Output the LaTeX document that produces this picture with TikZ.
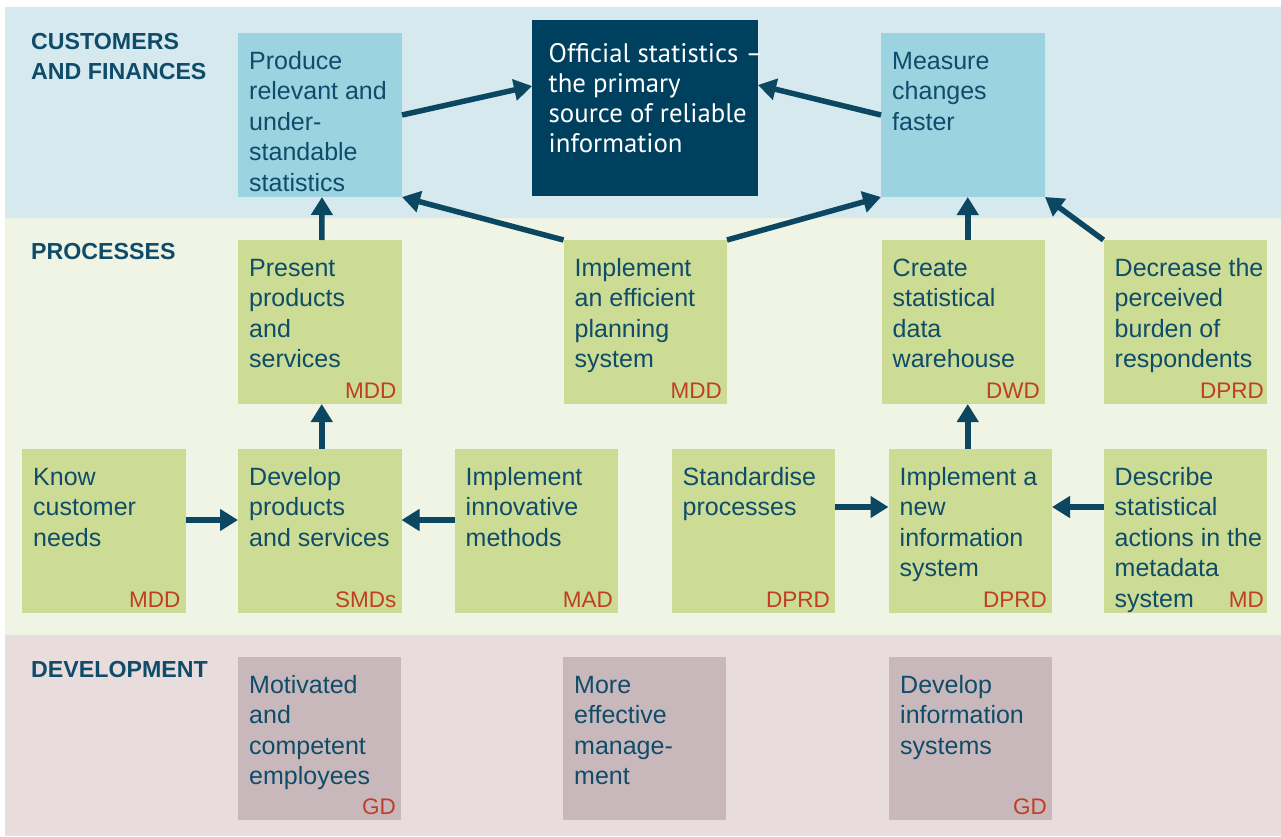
\documentclass[tikz,border=0pt]{standalone}
\usepackage{fontspec}
\setmainfont{Liberation Sans}
\newfontfamily\offfont{PT Sans}
\usetikzlibrary{arrows.meta}
\definecolor{bandblue}{HTML}{D5E9EF}
\definecolor{bandgreen}{HTML}{F0F4E4}
\definecolor{bandpink}{HTML}{E8DCDD}
\definecolor{boxblue}{HTML}{9BD3E0}
\definecolor{boxgreen}{HTML}{CCDC94}
\definecolor{boxpink}{HTML}{C9B8BB}
\definecolor{darkbox}{HTML}{00405F}
\definecolor{txtc}{HTML}{0F4C6A}
\definecolor{codec}{HTML}{BF3E24}
\definecolor{arrc}{HTML}{0B4761}
\tikzset{
  boxbase/.style={inner sep=0pt, outer sep=0pt, anchor=north west, minimum height=164pt},
  bluebox/.style={boxbase, fill=boxblue, minimum width=164pt},
  greenbox/.style={boxbase, fill=boxgreen, minimum width=163.5pt},
  pinkbox/.style={boxbase, fill=boxpink, minimum width=163pt, minimum height=163pt},
  btext/.style={inner sep=0pt, anchor=base west, align=left, text=txtc, font=\fontsize{25}{30.5}\selectfont},
  lines2/.style={yshift=-30.5pt},
  lines3/.style={yshift=-61pt},
  lines4/.style={yshift=-91.5pt},
  lines5/.style={yshift=-122pt},
  otext/.style={inner sep=0pt, anchor=base west, align=left, text=white, font=\offfont\fontsize{26.8}{30.3}\selectfont, yshift=-90.9pt},
  codetext/.style={inner sep=0pt, anchor=base east, text=codec, font=\fontsize{22.5}{27}\selectfont},
  bandlabel/.style={inner sep=0pt, anchor=base west, align=left, text=txtc, font=\bfseries\fontsize{23.2}{30}\selectfont},
  arr/.style={draw=arrc, line width=5.5pt, -{Triangle[length=18pt,width=21pt]}}
}
\begin{document}
\begin{tikzpicture}[x=1pt,y=-1pt]
\useasboundingbox (0,0) rectangle (1281,836);
\fill[white] (0,0) rectangle (1281,836);
% bands
\fill[bandblue] (5,7) rectangle (1281,218);
\fill[bandgreen] (5,218) rectangle (1281,635);
\fill[bandpink] (5,635) rectangle (1281,836);
% band labels
\node[bandlabel, yshift=-30pt] (lcust) at (31,49) {CUSTOMERS\\AND FINANCES};
\node[bandlabel] (lproc) at (31,259) {PROCESSES};
\node[bandlabel] (ldev) at (31,677) {DEVELOPMENT};
% top row
\node[bluebox] (prod) at (238,33) {};
\node[boxbase, fill=darkbox, minimum width=226pt, minimum height=176pt] (off) at (532,20) {};
\node[bluebox] (meas) at (881,33) {};
% processes row 1
\node[greenbox] (pres) at (238,240) {};
\node[greenbox] (impl) at (563.5,240) {};
\node[greenbox] (crea) at (881.5,240) {};
\node[greenbox] (decr) at (1103.5,240) {};
% processes row 2
\node[greenbox] (know) at (22,449) {};
\node[greenbox] (devp) at (238,449) {};
\node[greenbox] (innov) at (454.5,449) {};
\node[greenbox] (stand) at (671.5,449) {};
\node[greenbox] (newis) at (888.5,449) {};
\node[greenbox] (descr) at (1103.5,449) {};
% development
\node[pinkbox] (motiv) at (238,657) {};
\node[pinkbox] (more) at (563,657) {};
\node[pinkbox] (devis) at (889,657) {};
% texts
\node[btext, lines5] (prodT) at ([xshift=11pt,yshift=-36pt]prod.north west) {Produce\\relevant and\\under-\\standable\\statistics};
\node[otext] (offT) at ([xshift=16.5pt,yshift=-42pt]off.north west) {Official statistics –\\the primary\\source of reliable\\information};
\node[btext, lines3] (measT) at ([xshift=11pt,yshift=-36pt]meas.north west) {Measure\\changes\\faster};
\node[btext, lines4] (presT) at ([xshift=11pt,yshift=-36pt]pres.north west) {Present\\products\\and\\services};
\node[btext, lines4] (implT) at ([xshift=11pt,yshift=-36pt]impl.north west) {Implement\\an efficient\\planning\\system};
\node[btext, lines4] (creaT) at ([xshift=11pt,yshift=-36pt]crea.north west) {Create\\statistical\\data\\warehouse};
\node[btext, lines4] (decrT) at ([xshift=11pt,yshift=-36pt]decr.north west) {Decrease the\\perceived\\burden of\\respondents};
\node[btext, lines3] (knowT) at ([xshift=11pt,yshift=-36pt]know.north west) {Know\\customer\\needs};
\node[btext, lines3] (devpT) at ([xshift=11pt,yshift=-36pt]devp.north west) {Develop\\products\\and services};
\node[btext, lines3] (innovT) at ([xshift=11pt,yshift=-36pt]innov.north west) {Implement\\innovative\\methods};
\node[btext, lines2] (standT) at ([xshift=11pt,yshift=-36pt]stand.north west) {Standardise\\processes};
\node[btext, lines4] (newisT) at ([xshift=11pt,yshift=-36pt]newis.north west) {Implement a\\new\\information\\system};
\node[btext, lines5] (descrT) at ([xshift=11pt,yshift=-36pt]descr.north west) {Describe\\statistical\\actions in the\\metadata\\system};
\node[btext, lines4] (motivT) at ([xshift=11pt,yshift=-36pt]motiv.north west) {Motivated\\and\\competent\\employees};
\node[btext, lines4] (moreT) at ([xshift=11pt,yshift=-36pt]more.north west) {More\\effective\\manage-\\ment};
\node[btext, lines3] (devisT) at ([xshift=11pt,yshift=-36pt]devis.north west) {Develop\\information\\systems};
% codes
\node[codetext] (presC) at ([xshift=-5pt,yshift=6pt]pres.south east) {MDD};
\node[codetext] (implC) at ([xshift=-5pt,yshift=6pt]impl.south east) {MDD};
\node[codetext] (creaC) at ([xshift=-5pt,yshift=6pt]crea.south east) {DWD};
\node[codetext] (decrC) at ([xshift=-3pt,yshift=6pt]decr.south east) {DPRD};
\node[codetext] (knowC) at ([xshift=-5pt,yshift=6pt]know.south east) {MDD};
\node[codetext] (devpC) at ([xshift=-5pt,yshift=6pt]devp.south east) {SMDs};
\node[codetext] (innovC) at ([xshift=-5pt,yshift=6pt]innov.south east) {MAD};
\node[codetext] (standC) at ([xshift=-5pt,yshift=6pt]stand.south east) {DPRD};
\node[codetext] (newisC) at ([xshift=-5pt,yshift=6pt]newis.south east) {DPRD};
\node[codetext] (descrC) at ([xshift=-3pt,yshift=6pt]descr.south east) {MD};
\node[codetext] (motivC) at ([xshift=-5pt,yshift=6pt]motiv.south east) {GD};
\node[codetext] (devisC) at ([xshift=-5pt,yshift=6pt]devis.south east) {GD};
% arrows
\draw[arr] (prod.east) -- ([yshift=22pt]off.west);
\draw[arr] (meas.west) -- ([yshift=23pt]off.east);
\draw[arr] (impl.north west) -- (prod.south east);
\draw[arr] (impl.north east) -- (meas.south west);
\draw[arr] ([xshift=2pt]pres.north) -- ([xshift=2pt]prod.south);
\draw[arr] ([xshift=4.5pt]crea.north) -- ([xshift=4.5pt]crea.north |- meas.south);
\draw[arr] (decr.north west) -- (meas.south east);
\draw[arr] ([xshift=2pt]devp.north) -- ([xshift=2pt]pres.south);
\draw[arr] ([yshift=11pt]know.east) -- ([yshift=11pt]devp.west);
\draw[arr] ([yshift=11pt]innov.west) -- ([yshift=11pt]devp.east);
\draw[arr] ([yshift=24pt]stand.east) -- ([yshift=24pt]newis.west);
\draw[arr] ([yshift=24pt]descr.west) -- ([yshift=24pt]newis.east);
\draw[arr] ([xshift=-2.5pt]newis.north) -- ([xshift=-2.5pt]newis.north |- crea.south);
\end{tikzpicture}
\end{document}
